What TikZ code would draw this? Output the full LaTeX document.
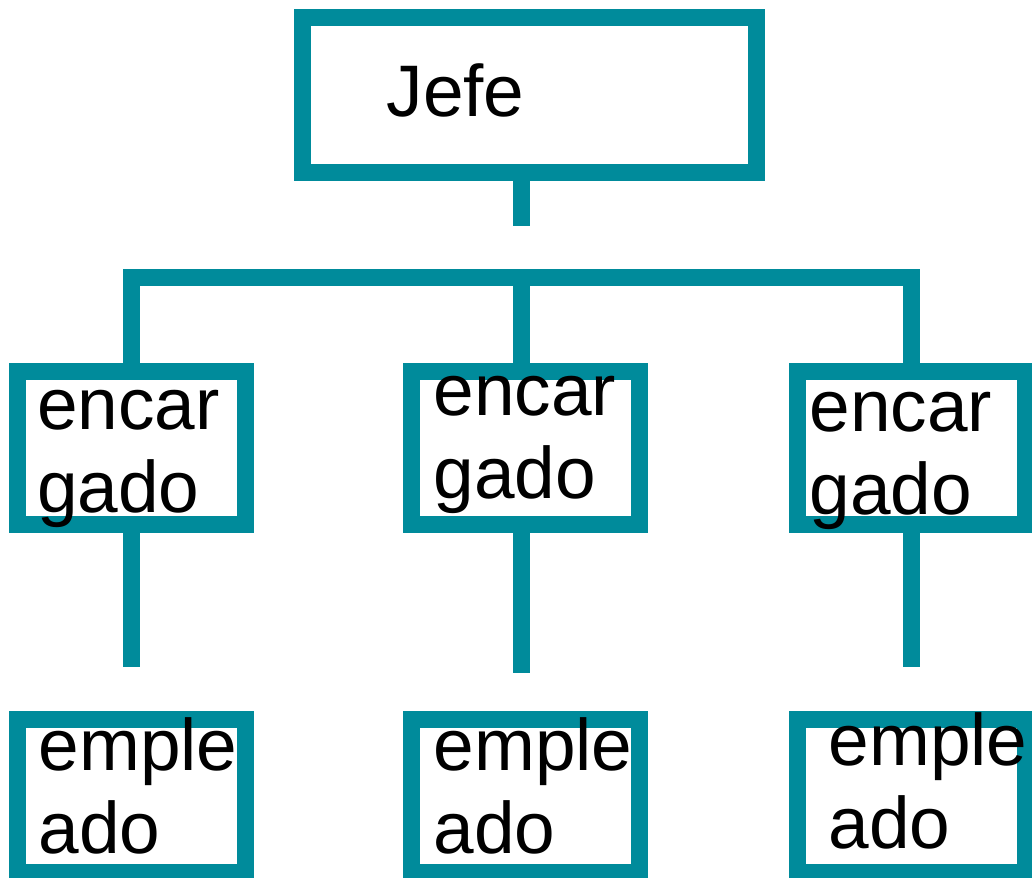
\documentclass[tikz,border=0pt]{standalone}
\usepackage{fontspec}
\setmainfont{Liberation Sans}
\definecolor{orgteal}{RGB}{0,139,155}
\newcommand{\twoln}[2]{\vtop{\baselineskip=83pt\hbox{#1}\hbox{#2}}}
\begin{document}
\begin{tikzpicture}[x=1pt,y=-1pt,
  orgbox/.style={draw=orgteal, line width=17pt, minimum width=228pt, minimum height=153pt, inner sep=0pt, outer sep=0pt},
  conn/.style={draw=orgteal, line width=17pt, line cap=butt, line join=miter},
  lbl/.style={anchor=base west, inner sep=0pt, outer sep=0pt, text=black, font=\fontsize{73}{83}\selectfont}]
\useasboundingbox (0,0) rectangle (1032,877);
% boxes
\node[orgbox, minimum width=454pt, minimum height=155pt] (jefe) at (529,95) {};
\node[orgbox] (encL) at (131.8,447.9) {};
\node[orgbox] (encM) at (525,447.9) {};
\node[orgbox] (encR) at (911.8,447.9) {};
\node[orgbox] (empL) at (131.8,795.9) {};
\node[orgbox] (empM) at (525,795.9) {};
\node[orgbox] (empR) at (911.8,795.9) {};
% coordinates for free ends
\coordinate (jstem) at (521.8,225.7);
\coordinate (busy) at (0,277);
\coordinate (sL) at (131.8,667);
\coordinate (sM) at (521.8,672.7);
\coordinate (sR) at (911.8,667);
% connectors
\draw[conn] (jstem |- jefe.south) -- (jstem);
\draw[conn] (encL.north) -- (encL.north |- busy) -- (encR.north |- busy) -- (encR.north);
\draw[conn] (jstem |- busy) -- (jstem |- encM.north);
\draw[conn] (encL.south) -- (sL);
\draw[conn] (sM |- encM.south) -- (sM);
\draw[conn] (encR.south) -- (sR);
% labels
\node[lbl] (tJ) at (386.5,117) {Jefe};
\node[lbl] (tEL) at (37,429) {\twoln{encar}{gado}};
\node[lbl] (tEM) at (433.7,415.7) {\twoln{encar}{gado}};
\node[lbl] (tER) at (809.7,431.7) {\twoln{encar}{gado}};
\node[lbl] (tPL) at (38.7,770) {\twoln{emple}{ado}};
\node[lbl] (tPM) at (433.7,770) {\twoln{emple}{ado}};
\node[lbl] (tPR) at (828.7,765) {\twoln{emple}{ado}};
\end{tikzpicture}
\end{document}
